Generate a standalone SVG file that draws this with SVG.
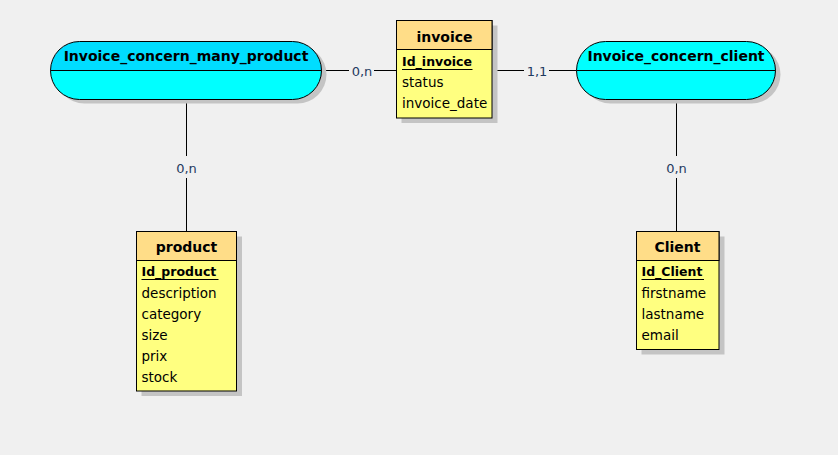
<svg xmlns="http://www.w3.org/2000/svg" width="838" height="455" viewBox="0 0 838 455">
<style>
.bg{fill:#F0F0F0}
.sh{fill:#C4C4C4}
.eh{fill:#FFDD88;stroke:#000;stroke-width:1}
.eb{fill:#FFFF80;stroke:#000;stroke-width:1}
.ah{stroke:#000;stroke-width:1}
.ln{stroke:#000;stroke-width:1;fill:none}
.t{font-family:"DejaVu Sans",Verdana,sans-serif;fill:#000}
.title{font-size:14px;font-weight:bold;text-anchor:middle}
.attr{font-size:13.5px}
.id{font-size:12.5px;font-weight:bold}
.card{font-family:"DejaVu Sans",Verdana,sans-serif;font-size:13px;fill:#1F3A60;text-anchor:middle}
</style>
<rect class="bg" x="0" y="0" width="838" height="455"/>

<g id="connectors">
  <line class="ln" x1="322" y1="70.5" x2="349" y2="70.5"/>
  <line class="ln" x1="374" y1="70.5" x2="396" y2="70.5"/>
  <text class="card" x="362" y="75.5">0,n</text>
  <line class="ln" x1="492" y1="70.5" x2="524" y2="70.5"/>
  <line class="ln" x1="549" y1="70.5" x2="576" y2="70.5"/>
  <text class="card" x="537" y="75.5">1,1</text>
  <line class="ln" x1="186.5" y1="99" x2="186.5" y2="156"/>
  <line class="ln" x1="186.5" y1="178" x2="186.5" y2="231"/>
  <text class="card" x="186.5" y="172.5">0,n</text>
  <line class="ln" x1="676.5" y1="99" x2="676.5" y2="156"/>
  <line class="ln" x1="676.5" y1="178" x2="676.5" y2="231"/>
  <text class="card" x="676.5" y="172.5">0,n</text>
</g>

<g id="assoc_many_product">
  <rect class="sh" x="55.5" y="45.5" width="271" height="58" rx="29" ry="29"/>
  <path d="M79.5,41.5 H292.5 A29,29 0 0 1 321.5,70.5 H50.5 A29,29 0 0 1 79.5,41.5 Z" fill="#00DDFF"/>
  <path d="M50.5,70.5 H321.5 A29,29 0 0 1 292.5,99.5 H79.5 A29,29 0 0 1 50.5,70.5 Z" fill="#00FFFF"/>
  <rect x="50.5" y="41.5" width="271" height="58" rx="29" ry="29" fill="none" stroke="#000"/>
  <line class="ah" x1="50.5" y1="70.5" x2="321.5" y2="70.5"/>
  <text class="t title" x="186" y="61">Invoice_concern_many_product</text>
</g>

<g id="assoc_client">
  <rect class="sh" x="581.5" y="45.5" width="199" height="58" rx="29" ry="29"/>
  <rect x="576.5" y="41.5" width="199" height="58" rx="29" ry="29" fill="#00FFFF" stroke="#000"/>
  <line class="ah" x1="576.5" y1="70.5" x2="775.5" y2="70.5"/>
  <text class="t title" x="676" y="61">Invoice_concern_client</text>
</g>

<g id="invoice">
  <rect class="sh" x="401.5" y="25.5" width="96" height="97.5"/>
  <rect class="eb" x="396.5" y="20.5" width="95.5" height="97.5"/>
  <rect class="eh" x="396.5" y="20.5" width="95.5" height="29"/>
  <text class="t title" x="444.5" y="42">invoice</text>
  <text class="t id" x="402" y="66">Id_invoice</text>
  <line class="ln" x1="402" y1="69.5" x2="472.5" y2="69.5"/>
  <text class="t attr" x="402" y="87">status</text>
  <text class="t attr" x="402" y="108">invoice_date</text>
</g>

<g id="product">
  <rect class="sh" x="141.5" y="236.5" width="100.5" height="159.5"/>
  <rect class="eb" x="136.5" y="231.5" width="100" height="159.5"/>
  <rect class="eh" x="136.5" y="231.5" width="100" height="29"/>
  <text class="t title" x="186.5" y="252">product</text>
  <text class="t id" x="141.5" y="276">Id_product</text>
  <line class="ln" x1="141.5" y1="279.5" x2="218.5" y2="279.5"/>
  <text class="t attr" x="141.5" y="298">description</text>
  <text class="t attr" x="141.5" y="319">category</text>
  <text class="t attr" x="141.5" y="340">size</text>
  <text class="t attr" x="141.5" y="361">prix</text>
  <text class="t attr" x="141.5" y="382">stock</text>
</g>

<g id="client">
  <rect class="sh" x="641.5" y="236.5" width="83" height="118"/>
  <rect class="eb" x="636.5" y="231.5" width="82.5" height="118"/>
  <rect class="eh" x="636.5" y="231.5" width="82.5" height="29"/>
  <text class="t title" x="677.5" y="252">Client</text>
  <text class="t id" x="641.5" y="276">Id_Client</text>
  <line class="ln" x1="641.5" y1="279.5" x2="704" y2="279.5"/>
  <text class="t attr" x="641.5" y="298">firstname</text>
  <text class="t attr" x="641.5" y="319">lastname</text>
  <text class="t attr" x="641.5" y="340">email</text>
</g>
</svg>
